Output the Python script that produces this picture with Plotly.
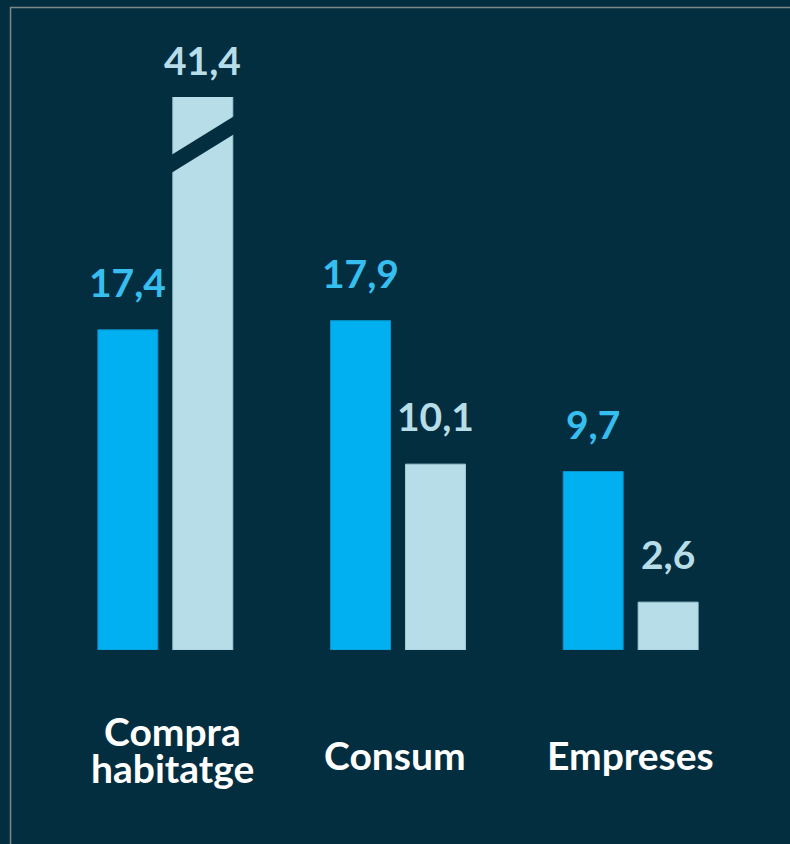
import plotly.graph_objects as go

# ---- data ----
categories = ["Compra habitatge", "Consum", "Empreses"]
category_lines = [["Compra", "habitatge"], ["Consum"], ["Empreses"]]
series_a = [17.4, 17.9, 9.7]
series_b = [41.4, 10.1, 2.6]
labels_a = ["17,4", "17,9", "9,7"]
labels_b = ["41,4", "10,1", "2,6"]

# ---- style ----
BG = "#032E3F"
BLUE = "#00B0F0"
BLUE_TXT = "#36BEF0"
LIGHT = "#B7DDE8"
FONT = "Lato"
VAL_SIZE = 39
CAT_SIZE = 39
CAT_XSHIFT = [7, -3, 0]

W, H = 790, 844
ML, MR, MT, MB = 49, 42.5, 97, 194
PLOT_W = W - ML - MR
PLOT_H = H - MT - MB
PX_PER_UNIT = 18.4
YMAX = PLOT_H / PX_PER_UNIT
CAT_PX = PLOT_W / len(categories)
BAR_PX = 60
GAP_PX = 15
BAR_OFF_PX = (BAR_PX + GAP_PX) / 2

fig = go.Figure()
fig.add_trace(go.Bar(x=categories, y=series_a, marker=dict(color=BLUE, line=dict(color="#0A93C8", width=1)),
                     hoverinfo="skip", showlegend=False))
fig.add_trace(go.Bar(x=categories, y=series_b, marker=dict(color=LIGHT, line=dict(color="#A3C9D4", width=1)),
                     hoverinfo="skip", showlegend=False))

annotations = []
for i, cat in enumerate(categories):
    for vals, labs, col, sgn in ((series_a, labels_a, BLUE_TXT, -1), (series_b, labels_b, LIGHT, 1)):
        v = vals[i]
        clipped = v > YMAX
        annotations.append(dict(
            x=cat, y=min(v, YMAX), xref="x", yref="y",
            xshift=sgn * BAR_OFF_PX, yshift=37 if clipped else 48,
            text=f"<b>{labs[i]}</b>", showarrow=False, yanchor="middle", xanchor="center",
            font=dict(family=FONT, size=VAL_SIZE, color=col)))
    lines = category_lines[i]
    n = len(lines)
    for j, ln in enumerate(lines):
        annotations.append(dict(
            x=cat, y=0, xref="x", yref="paper",
            xshift=CAT_XSHIFT[i],
            yshift=-105 + 6 * (n - 1) - (j - (n - 1) / 2) * 37,
            text=f"<b>{ln}</b>", showarrow=False, yanchor="middle", xanchor="center",
            font=dict(family=FONT, size=CAT_SIZE, color="white")))

shapes = []
# axis-break mark on the clipped bar(s)
for i, v in enumerate(series_b):
    if v > YMAX:
        cx = i + BAR_OFF_PX / CAT_PX
        half = (BAR_PX / 2 + 4) / CAT_PX
        slope = (37 / 60) * CAT_PX / PX_PER_UNIT  # value units per category unit
        mid = 27.47
        thick = 0.98
        xl, xr = cx - half, cx + half
        yl, yr = mid - slope * half, mid + slope * half
        path = (f"M {xl},{yl - thick/2} L {xr},{yr - thick/2} "
                f"L {xr},{yr + thick/2} L {xl},{yl + thick/2} Z")
        shapes.append(dict(type="path", path=path, xref="x", yref="y",
                           fillcolor=BG, line=dict(width=0), layer="above"))

# frame line (top and left)
shapes.append(dict(type="rect", xref="paper", yref="paper",
                   x0=(10.5 - ML) / PLOT_W, x1=1.2,
                   y0=-0.6, y1=(H - MB - 7.5) / PLOT_H,
                   line=dict(color="#7E878C", width=1.5), fillcolor="rgba(0,0,0,0)", layer="below"))

fig.update_layout(
    width=W, height=H,
    margin=dict(l=ML, r=MR, t=MT, b=MB, pad=0),
    paper_bgcolor=BG, plot_bgcolor=BG,
    barmode="group", bargap=1 - 2 * (BAR_PX + GAP_PX) / CAT_PX,
    bargroupgap=GAP_PX / (BAR_PX + GAP_PX),
    xaxis=dict(showgrid=False, zeroline=False, showticklabels=False, showline=False, fixedrange=True),
    yaxis=dict(range=[0, YMAX], showgrid=False, zeroline=False, showticklabels=False, showline=False, fixedrange=True),
    annotations=annotations, shapes=shapes,
    font=dict(family=FONT),
)

fig.write_html("out.html", config={"displayModeBar": False},
               post_script="document.body.style.margin='0';document.body.style.overflow='hidden';")
